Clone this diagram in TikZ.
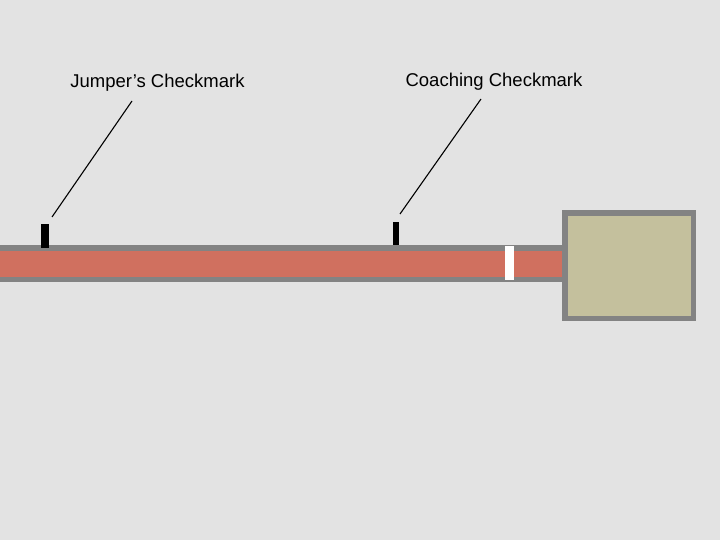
\documentclass[tikz,border=0pt]{standalone}
\usepackage{fontspec}
\setmainfont{Liberation Sans}
\definecolor{bg}{HTML}{E3E3E3}
\definecolor{runway}{HTML}{D0705F}
\definecolor{edge}{HTML}{838383}
\definecolor{sand}{HTML}{C4C09D}
\tikzset{
  checkbox/.style={fill=black, inner sep=0pt, minimum height=23pt},
  caption/.style={anchor=base, font=\fontsize{18.5}{20}\selectfont},
  leader/.style={line width=1.1pt}
}

\begin{document}
\begin{tikzpicture}[x=1pt, y=-1pt]
  \fill[bg] (0,0) rectangle (720,540);
  % runway
  \fill[edge] (0,245) rectangle (565,282);
  \fill[runway] (0,250.5) rectangle (565,276.5);
  % takeoff board
  \fill[white] (505,246) rectangle (514,280);
  % pit
  \fill[edge] (562,210) rectangle (696,321);
  \fill[sand] (568,216) rectangle (690.5,315.5);

  % checkmarks
  \node[checkbox, minimum width=8pt] (jmark) at (45,236) {};
  \node[checkbox, minimum width=6pt] (cmark) at (396,233.5) {};
  \node[caption] (jlabel) at (157.5,88) {Jumper's Checkmark};
  \node[caption] (clabel) at (494,87) {Coaching Checkmark};

  \coordinate (jtop) at (132,101);
  \coordinate (jtip) at (52,217);
  \coordinate (ctop) at (481,99);
  \coordinate (ctip) at (400,214);
  \draw[leader] (jtop) -- (jtip);
  \draw[leader] (ctop) -- (ctip);
\end{tikzpicture}
\end{document}
